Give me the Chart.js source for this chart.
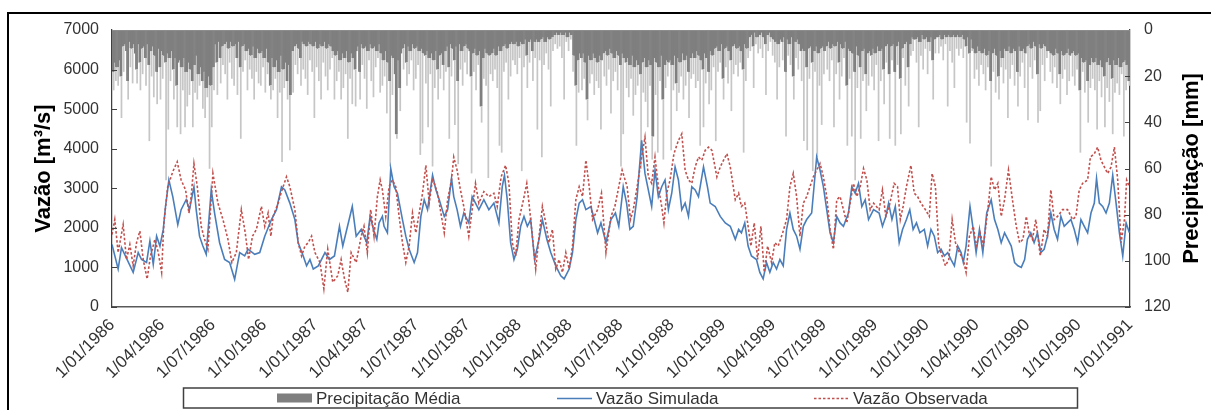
<!DOCTYPE html>
<html><head><meta charset="utf-8">
<script src="https://cdn.jsdelivr.net/npm/chart.js@4.4.1/dist/chart.umd.min.js"></script>
<style>
html,body{margin:0;padding:0;background:#fff;overflow:hidden;width:1211px;height:410px;}
#frame{position:absolute;left:7px;top:12px;width:1400px;height:600px;border:2px solid #000;box-sizing:border-box;}
#c{position:absolute;left:0;top:0;}
</style></head><body>
<div id="frame"></div>
<canvas id="c" width="1211" height="410"></canvas>
<script>
// ---- DATA ----
const tickDays = [0,90,181,273,365,455,546,638,730,821,912,1004,1096,1186,1277,1369,1461,1551,1642,1734,1826];
const tickLabels = ['1/01/1986','1/04/1986','1/07/1986','1/10/1986','1/01/1987','1/04/1987','1/07/1987','1/10/1987','1/01/1988','1/04/1988','1/07/1988','1/10/1988','1/01/1989','1/04/1989','1/07/1989','1/10/1989','1/01/1990','1/04/1990','1/07/1990','1/10/1990','1/01/1991'];

// Precipitação média (mm), one value per 2-day step starting 1/01/1986
const precipitacao = [
18,26,14,22,16,24,13,20,38,7,18,6,9,22,30,5,16,8,23,6,
10,17,23,6,14,26,8,19,7,12,24,6,15,48,9,20,7,29,11,18,
32,8,16,30,9,21,11,14,65,10,43,12,22,9,17,30,12,24,42,14,
13,45,16,26,12,42,18,33,14,28,17,22,42,15,27,11,30,19,24,16,
22,34,18,38,25,29,20,60,24,42,16,26,6,14,28,5,12,23,7,15,
6,19,5,30,8,14,5,21,7,24,6,12,28,5,16,47,7,18,6,13,
9,26,8,17,11,21,7,30,12,18,8,23,10,24,9,16,12,27,8,19,
14,24,30,12,26,16,21,13,38,18,27,11,57,17,25,14,22,30,15,52,
28,9,27,7,15,6,19,8,12,24,5,17,6,21,7,28,5,13,6,18,
7,38,5,16,8,22,6,30,7,14,5,20,8,26,6,17,7,12,9,30,
11,22,9,18,13,30,10,25,12,19,9,47,14,21,10,32,12,17,33,9,
7,18,30,6,15,8,21,7,34,9,13,6,22,8,29,7,16,9,12,6,
27,10,24,13,20,9,36,14,22,59,11,28,12,19,45,47,13,25,35,10,
8,17,6,14,24,7,19,9,13,6,26,8,21,7,15,9,54,8,49,10,
11,23,9,42,12,19,10,59,13,25,9,17,30,11,21,10,15,26,9,18,
7,16,47,6,20,8,13,41,7,22,58,6,17,9,24,7,14,6,19,8,
9,20,62,10,18,8,26,11,15,9,33,40,12,21,8,24,10,64,11,19,
10,22,8,17,11,25,7,50,9,53,7,18,6,14,8,30,6,20,5,13,
6,15,5,19,7,12,5,61,6,16,4,11,25,5,14,4,9,22,5,12,
4,43,5,13,4,55,3,15,5,10,3,17,4,33,3,9,2,6,1,8,
2,7,1,12,2,30,1,5,3,9,1,4,2,18,11,24,50,13,27,10,
12,26,10,21,14,30,39,11,23,13,19,10,28,12,22,14,25,11,43,13,
10,20,9,24,11,17,8,36,10,22,12,18,9,26,11,15,59,10,45,12,
14,25,12,29,15,21,11,37,16,28,13,24,15,19,60,14,27,12,31,16,
42,13,24,15,56,46,12,28,14,53,16,22,11,30,56,15,25,13,20,14,
13,52,15,26,11,23,35,12,27,14,20,10,30,13,24,11,18,38,12,21,
10,19,12,25,9,22,11,50,13,17,42,10,23,12,18,32,9,26,11,16,
8,48,7,18,9,14,6,21,30,8,16,7,23,9,13,35,7,19,6,15,
8,20,7,14,9,17,53,6,22,8,12,3,9,2,7,25,1,6,3,10,
2,8,1,12,3,6,28,2,9,1,5,3,11,4,14,5,30,6,16,4,
5,13,3,18,46,4,11,6,15,3,20,30,5,12,4,17,6,9,22,8,
48,9,16,52,8,21,7,14,61,9,18,7,55,10,24,8,41,7,19,9,
7,17,5,22,8,13,6,42,7,19,5,14,30,6,20,8,12,5,24,50,
8,21,9,46,10,18,65,7,25,11,16,47,9,22,8,19,35,10,24,9,
11,20,8,26,10,15,7,48,9,22,8,17,32,7,14,6,19,47,7,13,
6,18,50,7,15,5,21,45,8,12,6,24,5,16,33,6,11,3,9,4,
4,14,3,42,5,11,2,17,4,8,3,19,5,9,3,13,30,4,10,3,
3,10,2,7,4,13,2,6,3,33,2,9,3,14,2,25,3,8,2,11,
3,8,2,12,4,7,40,3,10,49,4,9,8,21,10,17,7,24,9,15,
10,19,8,26,11,16,9,22,59,10,18,8,27,11,20,30,9,16,12,23,
8,17,9,38,7,21,10,15,8,24,9,18,33,7,20,9,14,8,25,10,
7,39,6,16,8,21,5,13,7,19,40,6,35,8,15,6,22,7,12,9,
9,18,10,23,11,16,8,25,10,19,32,9,21,11,17,10,28,8,22,11,
10,20,9,24,11,17,10,26,53,12,18,14,27,13,22,40,15,25,12,21,
14,26,12,43,15,22,13,29,16,20,42,14,25,12,31,15,21,45,13,27,
15,23,12,28,16,19,14,46,13,26,15,22,24
];

// Vazão simulada [day since 1/01/1986, m3/s]
const vazaoSimulada = [
[0,1580],[11,960],[17,1500],[38,875],[47,1375],[53,1200],[62,1125],[68,1670],[74,1080],[80,1790],[86,1540],[92,1960],[96,2540],[102,3210],[109,2790],[118,2080],[124,2460],[133,2710],[139,2460],[147,3040],[151,2460],[157,1790],[163,1540],[169,1330],[178,2960],[184,2375],[193,1625],[202,1200],[211,1125],[220,700],[229,1375],[238,1290],[244,1460],[256,1330],[265,1375],[274,1790],[286,2210],[295,2460],[304,3040],[310,2960],[319,2625],[328,2210],[334,1625],[343,1290],[349,1040],[355,1200],[361,960],[370,1040],[382,1375],[390,1200],[399,1290],[408,2040],[414,1540],[431,2540],[438,1790],[447,1960],
[452,1790],[457,1625],[463,2290],[469,1960],[475,1710],[479,2125],[485,2290],[488,2040],[494,1875],[500,3500],[506,3040],[512,2875],[521,2210],[527,1790],[533,1460],[542,1125],[548,1375],[554,2290],[560,2710],[566,2460],[575,3330],[581,2960],[587,2710],[596,2290],[602,2460],[609,3250],[613,2790],[619,2460],[625,2040],[631,2375],[640,2125],[646,2790],[652,2625],[658,2460],[667,2710],[676,2460],[685,2625],[694,2125],[700,3040],[704,3330],[709,2710],[715,1625],[721,1200],[727,1460],[733,2040],[739,2290],[745,2040],[751,2210],[758,1200],[766,1710],[772,2210],[780,1710],[787,1375],[796,1040],[805,790],[811,710],[820,960],[826,1375],[832,2210],[838,2625],[844,2710],[850,2460],[859,2540],[865,2210],[871,1875],[877,2125],[886,1625],[895,2210],[903,2375],[909,2040],
[917,3040],[923,2625],[929,1960],[935,2040],[942,2790],[950,4210],[956,3375],[962,2960],[968,2540],[974,3460],[980,2790],[986,3040],[992,3210],[998,2460],[1004,2875],[1010,3540],[1016,3210],[1022,2460],[1028,2625],[1034,2290],[1040,3040],[1046,2960],[1052,2790],[1061,3540],[1068,3040],[1073,2625],[1082,2540],[1091,2290],[1100,2125],[1109,2040],[1118,1710],[1124,1960],[1129,1875],[1135,2125],[1141,1540],[1147,1290],[1156,1200],[1162,875],[1168,710],[1174,1125],[1180,875],[1186,1125],[1192,960],[1198,1200],[1204,1040],[1210,1960],[1216,2375],[1222,1960],[1228,1790],[1234,1460],[1240,2040],[1246,2210],[1255,2375],[1264,3790],[1270,3460],[1276,3040],[1282,2460],[1288,1875],[1294,1625],[1300,2290],[1306,2125],[1312,2040],[1321,2375],[1327,3040],[1333,2875],[1339,3125],[1345,2540],[1351,2710],[1357,2210],[1366,2460],
[1376,2375],[1382,2040],[1388,2290],[1393,2625],[1399,2210],[1405,2540],[1412,1625],[1418,1960],[1425,2210],[1431,2460],[1437,1960],[1443,2125],[1449,1875],[1457,1960],[1463,1540],[1469,1960],[1475,1790],[1481,1375],[1487,1460],[1493,1290],[1499,1375],[1505,1200],[1511,1040],[1517,1540],[1523,1375],[1527,1125],[1532,1540],[1539,2540],[1544,2040],[1550,1375],[1556,1960],[1562,1375],[1569,2375],[1577,2710],[1583,2210],[1589,1960],[1595,1625],[1601,1875],[1607,1710],[1613,1540],[1619,1125],[1625,1040],[1631,1000],[1637,1200],[1642,1710],[1648,1875],[1654,1625],[1660,1875],[1666,1375],[1672,1460],[1678,1790],[1684,2375],[1690,1960],[1696,1710],[1702,2290],[1708,2040],[1714,2125],[1720,2210],[1726,1960],[1732,1625],[1738,2210],[1744,2040],[1750,1875],[1756,2375],[1762,2625],[1766,3250],[1771,2625],[1777,2540],[1783,2375],[1789,2625],[1795,3330],[1801,2625],[1807,1875],[1813,1290],[1819,2125],[1825,1875]
];

// Vazão observada [day since 1/01/1986, m3/s]
const vazaoObservada = [
[0,1830],[5,2210],[11,1375],[20,2080],[26,1200],[32,1580],[38,1040],[44,1625],[50,1920],[56,1200],[63,710],[69,1290],[77,1710],[83,1375],[89,875],[93,2125],[100,3040],[109,3420],[117,3670],[124,3210],[132,2960],[138,2375],[142,2790],[147,3625],[153,3040],[160,2040],[166,1710],[172,1460],[181,3375],[190,2625],[199,2210],[208,1710],[215,1125],[223,1375],[232,2460],[239,1875],[245,1200],[252,1790],[259,1960],[268,2540],[274,2040],[280,2375],[285,1790],[289,2290],[298,2625],[304,2915],[313,3290],[319,3040],[328,2460],[334,1625],[340,1290],[346,1540],[352,1625],[358,1790],[364,1375],[373,1125],[380,460],[387,1460],[396,625],[405,790],[411,1200],[417,710],[423,375],[429,1375],[438,1125],[447,1790],
[452,2040],[458,1375],[464,2460],[470,1790],[476,2790],[481,3210],[485,2960],[491,2290],[497,3040],[503,3210],[509,3040],[515,2290],[521,1625],[527,1125],[533,1540],[539,2375],[545,1875],[551,2375],[557,2875],[563,3580],[569,2625],[575,3250],[584,2875],[591,2290],[596,1875],[602,2710],[609,3210],[613,3790],[619,3460],[625,2960],[631,2540],[640,1790],[646,2460],[652,3125],[658,2625],[667,2915],[676,2790],[685,2875],[691,2540],[698,3290],[706,3580],[712,3125],[718,1625],[724,1290],[730,2210],[738,2710],[744,3125],[748,2625],[754,1790],[760,960],[766,1790],[772,2540],[778,2125],[784,1625],[790,1960],[796,960],[802,1200],[808,875],[814,1375],[820,960],[826,1540],[832,2710],[838,3040],[844,2790],[850,3710],[856,3040],[862,2210],[871,2460],[878,2875],[886,1375],[895,2290],[902,2540],[909,3040],[915,3460],
[924,3040],[930,2210],[935,2460],[942,3040],[950,3790],[956,4290],[962,3290],[968,3125],[974,3790],[980,3040],[986,2540],[990,2125],[995,2875],[1001,3210],[1008,3875],[1016,4210],[1022,4375],[1028,3460],[1034,3210],[1040,3125],[1046,3540],[1052,3790],[1058,3710],[1064,3960],[1070,4040],[1076,3960],[1085,3290],[1091,3540],[1097,3710],[1103,3875],[1109,3540],[1118,2710],[1124,2875],[1129,2540],[1135,2625],[1141,2040],[1146,1540],[1152,2125],[1158,1200],[1164,2040],[1170,875],[1176,1540],[1183,1125],[1189,1625],[1195,1540],[1203,1875],[1210,2210],[1216,3040],[1222,3375],[1228,2790],[1234,1790],[1240,2625],[1246,2790],[1252,3040],[1258,3290],[1264,3460],[1270,3625],[1276,3290],[1282,2790],[1288,1960],[1294,1460],[1300,2710],[1306,2790],[1312,2460],[1318,2125],[1324,2625],[1330,3125],[1336,2790],[1342,3040],[1348,3500],[1354,3210],[1360,2460],[1366,2625],
[1376,2460],[1382,2960],[1388,2290],[1394,2540],[1403,3125],[1409,3040],[1414,2210],[1419,2540],[1425,3040],[1433,3580],[1439,2875],[1445,2790],[1451,2625],[1459,2460],[1466,2290],[1471,3375],[1477,3040],[1483,1540],[1489,1290],[1495,1040],[1501,1200],[1507,2210],[1513,1625],[1520,1375],[1527,1200],[1532,875],[1538,1790],[1545,2040],[1550,1540],[1557,1875],[1563,1540],[1571,2460],[1577,3290],[1583,2960],[1589,3125],[1595,2290],[1601,2710],[1608,3460],[1616,2625],[1622,2040],[1628,1625],[1634,1710],[1640,2290],[1645,1875],[1651,1710],[1657,2210],[1665,1290],[1672,1960],[1678,1790],[1684,2960],[1690,2210],[1696,2290],[1705,2460],[1714,2460],[1723,2210],[1729,2290],[1735,2960],[1741,3125],[1750,3210],[1755,3790],[1762,3875],[1768,4040],[1774,3710],[1780,3540],[1786,3375],[1792,3540],[1798,4040],[1804,3210],[1810,1625],[1816,2210],[1820,3210],[1825,3040]
];

// ---- CHART ----
const FONT = '"Liberation Sans", Arial, sans-serif';
Chart.defaults.font.family = FONT;
Chart.defaults.color = '#333';
const BAR_DARK = '#7f7f7f', BAR_LIGHT = '#c6c6c6';

// Dense rain (where neighbouring steps overlap) is dark, lone peaks light grey
function precipFill(c) {
  if (c.type !== 'data') return BAR_DARK;
  const yP = c.chart.scales.yP;
  const i = c.dataIndex, v = precipitacao[i];
  const nb = Math.max(i > 0 ? precipitacao[i - 1] : 0, i < precipitacao.length - 1 ? precipitacao[i + 1] : 0);
  const core = Math.min(v, nb);
  if (!yP || core >= v || v <= 0) return BAR_DARK;
  const y0 = yP.getPixelForValue(0), y1 = yP.getPixelForValue(v);
  if (!isFinite(y0) || !isFinite(y1) || y0 === y1) return BAR_DARK;
  const g = c.chart.ctx.createLinearGradient(0, y0, 0, y1);
  const t = core / v;
  g.addColorStop(0, BAR_DARK); g.addColorStop(t, BAR_DARK);
  g.addColorStop(t, BAR_LIGHT); g.addColorStop(1, BAR_LIGHT);
  return g;
}

const decor = {
  id: 'decor',
  afterDatasetsDraw(chart) {
    const ctx = chart.ctx, a = chart.chartArea;
    const yQ = chart.scales.yQ, yP = chart.scales.yP;
    ctx.save();
    ctx.strokeStyle = '#404040'; ctx.lineWidth = 1;
    yQ.ticks.forEach(t => { const y = Math.round(yQ.getPixelForValue(t.value)) + 0.5; ctx.beginPath(); ctx.moveTo(a.left, y); ctx.lineTo(a.left + 5, y); ctx.stroke(); });
    yP.ticks.forEach(t => { const y = Math.round(yP.getPixelForValue(t.value)) + 0.5; ctx.beginPath(); ctx.moveTo(a.right - 5, y); ctx.lineTo(a.right, y); ctx.stroke(); });
    ctx.strokeStyle = '#8c8c8c';
    ctx.beginPath(); ctx.moveTo(a.left, a.top + 0.5); ctx.lineTo(a.right, a.top + 0.5); ctx.stroke();
    ctx.restore();
  },
  afterDraw(chart) {
    const ctx = chart.ctx, a = chart.chartArea;
    ctx.save();
    ctx.translate(1192, (a.top + a.bottom) / 2);
    ctx.rotate(-Math.PI / 2);
    ctx.font = 'bold 22px ' + FONT; ctx.fillStyle = '#000';
    ctx.textAlign = 'center'; ctx.textBaseline = 'middle';
    ctx.fillText('Precipitação [mm]', 0, 0);
    ctx.restore();
    ctx.save();
    const cy = 398;
    ctx.strokeStyle = '#404040'; ctx.lineWidth = 1.5;
    ctx.strokeRect(183.5, 388, 894, 20);
    const starts = [277, 557, 814];
    ctx.font = '17px ' + FONT; ctx.textBaseline = 'middle'; ctx.textAlign = 'left';
    chart.data.datasets.forEach((d, i) => {
      const x = starts[i];
      if (d.type === 'bar') {
        ctx.fillStyle = BAR_DARK; ctx.fillRect(x, cy - 4.5, 35, 9);
      } else {
        ctx.strokeStyle = d.borderColor; ctx.lineWidth = d.borderWidth;
        ctx.setLineDash(d.borderDash || []);
        ctx.beginPath(); ctx.moveTo(x, cy + 0.5); ctx.lineTo(x + 35, cy + 0.5); ctx.stroke();
        ctx.setLineDash([]);
      }
      ctx.fillStyle = '#333';
      ctx.fillText(d.label, x + 39, cy + 1);
    });
    ctx.restore();
  }
};

new Chart(document.getElementById('c'), {
  data: {
    datasets: [
      {
        type: 'bar', label: 'Precipitação Média',
        data: precipitacao.map((v, i) => ({ x: 2 * i + 1, y: v })),
        xAxisID: 'x', yAxisID: 'yP',
        backgroundColor: precipFill, borderWidth: 0,
        barPercentage: 1, categoryPercentage: 1, inflateAmount: 0.3, order: 2
      },
      {
        type: 'line', label: 'Vazão Simulada',
        data: vazaoSimulada.map(p => ({ x: p[0], y: p[1] })),
        xAxisID: 'x', yAxisID: 'yQ',
        borderColor: '#4a7ebb', borderWidth: 1.6, pointRadius: 0, tension: 0, order: 1
      },
      {
        type: 'line', label: 'Vazão Observada',
        data: vazaoObservada.map(p => ({ x: p[0], y: p[1] })),
        xAxisID: 'x', yAxisID: 'yQ',
        borderColor: '#c0504d', borderWidth: 1.6, borderDash: [2.5, 2], pointRadius: 0, tension: 0, order: 0
      }
    ]
  },
  options: {
    responsive: false, animation: false, devicePixelRatio: 1,
    layout: { padding: { left: 0, right: 0, top: 30, bottom: 26 } },
    plugins: { legend: { display: false }, tooltip: { enabled: false } },
    scales: {
      x: {
        type: 'linear', min: 0, max: 1826, offset: false,
        afterBuildTicks: s => { s.ticks = tickDays.map(v => ({ value: v })); },
        afterFit: s => { s.height = 77; },
        ticks: { autoSkip: false, minRotation: 45, maxRotation: 45, padding: 8,
                 font: { size: 17 }, color: '#333',
                 callback: (v, i) => tickLabels[i] },
        grid: { display: false, drawTicks: false },
        border: { display: true, color: '#595959', width: 1.5 }
      },
      yQ: {
        type: 'linear', position: 'left', min: 0, max: 7000,
        afterFit: s => { s.width = 112; },
        ticks: { stepSize: 1000, padding: 13, font: { size: 16 }, color: '#333', callback: v => String(v) },
        grid: { display: false, drawTicks: false },
        border: { display: true, color: '#404040', width: 1.25 },
        title: { display: true, text: 'Vazão [m³/s]', color: '#000',
                 font: { size: 22, weight: 'bold' }, padding: { top: 31, bottom: 0 } }
      },
      yP: {
        type: 'linear', position: 'right', min: 0, max: 120, reverse: true,
        afterFit: s => { s.width = 81; },
        ticks: { stepSize: 20, padding: 14, font: { size: 16 }, color: '#333', callback: v => String(v) },
        grid: { display: false, drawTicks: false },
        border: { display: true, color: '#404040', width: 1.25 }
      }
    }
  },
  plugins: [decor]
});
</script></body></html>
